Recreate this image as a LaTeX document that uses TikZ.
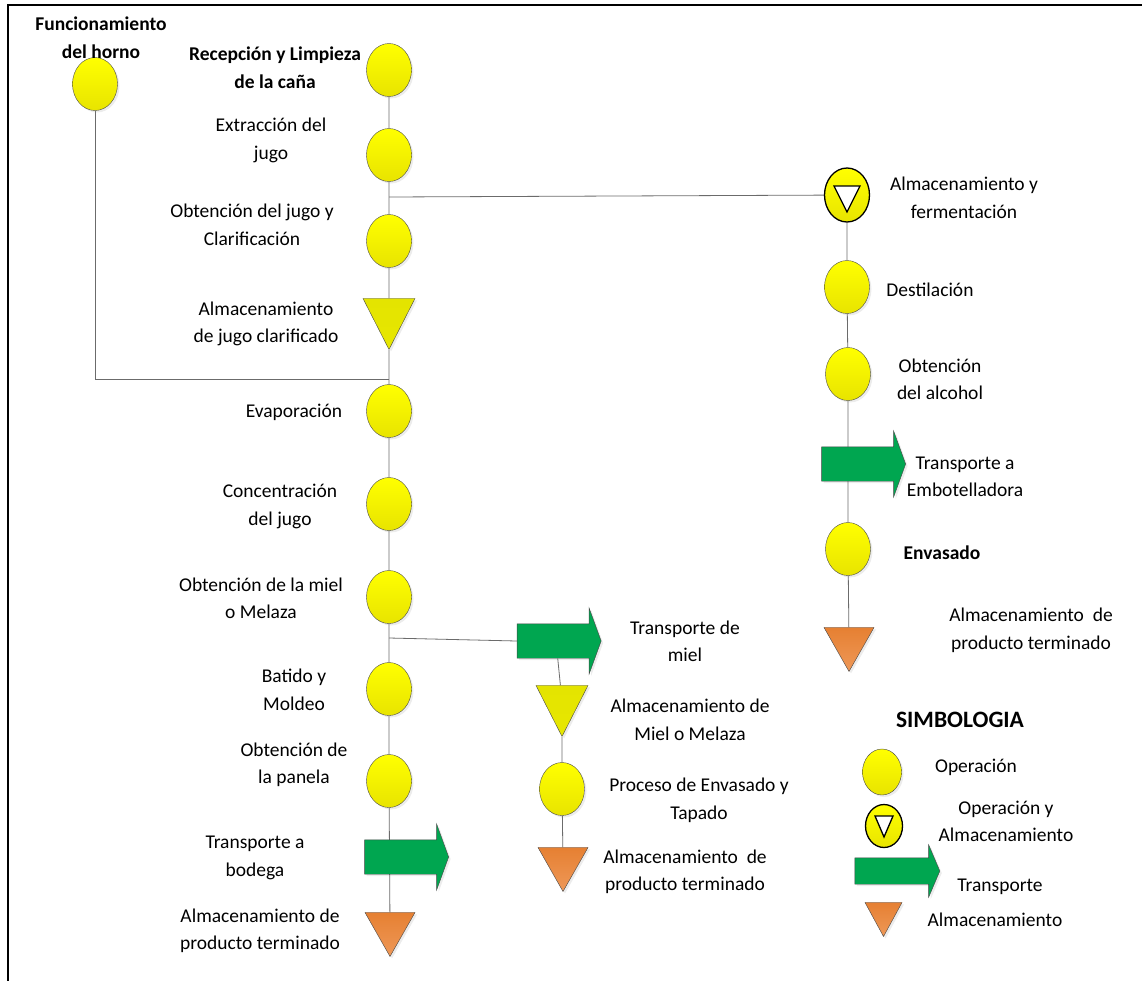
\documentclass[tikz,border=0pt]{standalone}
\usepackage{fontspec}
\setmainfont{Carlito}
\usetikzlibrary{positioning,shapes.geometric,shapes.arrows,shadows,backgrounds}

\newcommand\etfont{\fontsize{19.5}{27.5}\selectfont}

\definecolor{amarillo}{RGB}{255,255,0}
\definecolor{amarilloosc}{RGB}{232,228,0}
\definecolor{amarillotri}{RGB}{228,228,0}
\definecolor{verde}{RGB}{0,166,80}
\definecolor{naranja}{RGB}{230,128,50}
\definecolor{naranjacl}{RGB}{238,152,88}
\definecolor{borde}{RGB}{70,70,70}

\begin{document}
\begin{tikzpicture}[
  x=1pt, y=-1pt,
  oper/.style={draw=borde, ellipse, inner sep=0, minimum width=45, minimum height=53,
               top color=amarillo, bottom color=amarilloosc,
               drop shadow={opacity=0.15, shadow xshift=2pt, shadow yshift=-2pt}},
  opalm/.style n args={3}{ellipse, draw=black, line width=1.3pt, inner sep=0,
               minimum width=45, minimum height=54,
               top color=amarillo, bottom color=amarilloosc,
               path picture={\draw[fill=white, line width=1.3pt]
                 ([shift={(-#1,-#2)}]path picture bounding box.center)
                 -- ([shift={(#1,-#2)}]path picture bounding box.center)
                 -- ([shift={(0,#3)}]path picture bounding box.center) -- cycle;}},
  almamar/.style={draw=borde, isosceles triangle, isosceles triangle stretches,
               shape border rotate=270, inner sep=0, minimum width=52, minimum height=51,
               top color=amarillotri, bottom color=amarillotri!90!yellow,
               drop shadow={opacity=0.15, shadow xshift=2pt, shadow yshift=-2pt}},
  almprod/.style={draw=borde, isosceles triangle, isosceles triangle stretches,
               shape border rotate=270, inner sep=0, minimum width=50, minimum height=44,
               top color=naranja, bottom color=naranjacl,
               drop shadow={opacity=0.15, shadow xshift=2pt, shadow yshift=-2pt}},
  transp/.style={draw=borde, fill=verde, single arrow, inner xsep=0, inner ysep=17,
               minimum height=84, single arrow head extend=16, single arrow tip angle=140,
               drop shadow={opacity=0.15, shadow xshift=2pt, shadow yshift=-2pt}},
  etiq/.style={align=center, inner sep=0, font=\etfont},
  lin/.style={draw=borde!80, line width=0.8pt}
]
\useasboundingbox (0,0) rectangle (1142,980);
\draw[line width=2.2pt] (8,5) rectangle (1160,1000);

% columna principal
\node[oper] (horno)  at (95,84)  {};
\node[oper] (recep)  at (389,70) {};
\node[oper] (extrac) at (389,155) {};
\node[oper] (clarif) at (389,241) {};
\node[almamar, anchor=apex] (almjugo) at (389,350) {};
\node[oper] (evap)   at (389,411) {};
\node[oper] (concen) at (389,504) {};
\node[oper] (miel)   at (389,597) {};
\node[oper] (batido) at (389,689) {};
\node[oper] (panela) at (389,781) {};
\node[transp] (transbod) at (403.5,857) {};
\node[almprod, anchor=apex] (prodfin) at (390,957) {};
\coordinate (jhorno) at (389,379);
\coordinate (jferm)  at (389,197);
\coordinate (jmiel)  at (389,638);

% rama de la miel
\node[transp] (transmiel) at (556,641) {};
\node[almamar, anchor=apex] (almmiel) at (562,737) {};
\node[oper] (procenv) at (562,789) {};
\node[almprod, anchor=apex] (prodmiel) at (563,892) {};

% rama del alcohol
\node[opalm={13}{9}{17}] (ferm) at (847,195) {};
\node[oper] (destil)  at (847,287) {};
\node[oper] (alcohol) at (848,374) {};
\node[transp] (transemb) at (860.5,464) {};
\node[oper] (envas)   at (848,549) {};
\node[almprod, anchor=apex] (prodalc) at (849,672) {};

% simbologia
\node[oper, minimum width=39, minimum height=46] (leyop) at (882,772) {};
\node[opalm={9}{10}{11}, minimum width=37, minimum height=43] (leyopalm) at (884,826) {};
\node[transp, minimum height=85, inner ysep=13, single arrow head extend=13,
      single arrow tip angle=134] (leytr) at (894.5,871) {};
\node[almprod, anchor=apex, minimum width=37, minimum height=34] (leyalm) at (883.5,937) {};

% conectores
\begin{scope}[on background layer]
\draw[lin] (recep) -- (extrac) -- (clarif) -- (almjugo) -- (evap) -- (concen)
           -- (miel) -- (batido) -- (panela) -- (prodfin);
\draw[lin] (horno) |- (jhorno);
\draw[lin] (jferm) -- (ferm);
\draw[lin] (ferm) -- (destil) -- (alcohol) -- (envas) -- (prodalc);
\draw[lin] (jmiel) -- (transmiel.west);
\draw[lin] (transmiel) -- (almmiel) -- (procenv) -- (prodmiel);
\end{scope}

% etiquetas
\node[etiq, font=\etfont\bfseries] (thorno) at (101,37.5) {Funcionamiento\\del horno};
\node[etiq, font=\etfont\bfseries] (trecep) at (275,67.5) {Recepción y Limpieza\\de la caña};
\node[etiq] (textrac) at (271,140.5) {Extracción del\\jugo};
\node[etiq] (tclarif) at (252,225) {Obtención del jugo y\\Clarificación};
\node[etiq] (talmjugo) at (266,324) {Almacenamiento\\de jugo clarificado};
\node[etiq] (tevap) at (294,412) {Evaporación};
\node[etiq] (tconcen) at (280,506.5) {Concentración\\del jugo};
\node[etiq] (tmiel) at (261,598.5) {Obtención de la miel\\o Melaza};
\node[etiq] (tbatido) at (294,690) {Batido y\\Moldeo};
\node[etiq] (tpanela) at (294,765) {Obtención de\\la panela};
\node[etiq] (ttransbod) at (255,858) {Transporte a\\bodega};
\node[etiq] (tprodfin) at (260,931) {Almacenamiento de\\producto terminado};

\node[etiq] (ttransmiel) at (685,641.5) {Transporte de\\miel};
\node[etiq] (talmmiel) at (690,720) {Almacenamiento de\\Miel o Melaza};
\node[etiq] (tprocenv) at (699,800.5) {Proceso de Envasado y\\Tapado};
\node[etiq] (tprodmiel) at (685,872) {Almacenamiento~ de\\producto terminado};

\node[etiq] (tferm) at (964,198) {Almacenamiento y\\fermentación};
\node[etiq] (tdestil) at (930,290) {Destilación};
\node[etiq] (talcohol) at (940,379.5) {Obtención\\del alcohol};
\node[etiq] (ttransemb) at (965,477) {Transporte a\\Embotelladora};
\node[etiq, font=\etfont\bfseries] (tenvas) at (942,553) {Envasado};
\node[etiq] (tprodalc) at (1031,630.5) {Almacenamiento~ de\\producto terminado};

\node[etiq, font=\fontsize{23.5}{28}\selectfont\bfseries] (tsimb) at (960,720) {SIMBOLOGIA};
\node[etiq] (tleyop) at (976,767) {Operación};
\node[etiq] (tleyopalm) at (1006,821.5) {Operación y\\Almacenamiento};
\node[etiq] (tleytr) at (1000,887) {Transporte};
\node[etiq] (tleyalm) at (995,920) {Almacenamiento};
\end{tikzpicture}
\end{document}
